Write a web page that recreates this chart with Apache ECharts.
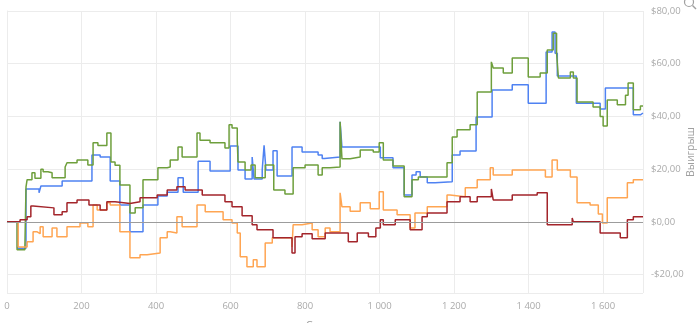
<!DOCTYPE html>
<html>
<head>
<meta charset="utf-8">
<script src="https://cdn.jsdelivr.net/npm/echarts@6/dist/echarts.min.js"></script>
<style>
html,body{margin:0;padding:0;background:#fff;}
#c{width:700px;height:323px;}
</style>
</head>
<body>
<div id="c"></div>
<script>
// ---- data (x = trade number where a new value starts, y = cumulative profit) ----
const blueX = [0,28,51,86,91,148,228,250,277,303,330,365,405,430,459,473,513,545,599,620,639,658,663,685,690,695,714,725,765,792,835,846,852,894,899,1002,1036,1066,1087,1098,1109,1128,1149,1195,1216,1259,1302,1356,1399,1447,1463,1471,1477,1528,1592,1606,1681,1700,1707];
const blueY = [0,-10,12.5,11,13.6,15.5,25.4,24.6,15.5,6.4,-3.8,6.4,9.8,11.2,16.7,11.2,23,19.3,28.8,19.7,16.3,24.6,16.3,19.7,29,19.7,27,17.4,28.4,26.5,25.4,24,24.6,38,28.4,24.3,20.5,10.2,17.8,19,17,14.8,15.2,25.4,26.9,39.8,50,52,45,64.4,72,64,55.3,45,42.8,50.8,40.6,41.3,41.3];

const greenX = [0,27,48,51,54,67,75,91,97,110,121,156,161,188,217,231,244,268,279,290,303,330,344,365,405,430,438,459,470,510,518,545,585,596,604,618,620,639,655,666,693,716,746,768,800,835,846,867,894,899,921,948,983,999,1010,1036,1066,1087,1104,1181,1195,1208,1243,1262,1300,1305,1332,1356,1399,1431,1450,1466,1475,1480,1512,1520,1530,1573,1592,1600,1611,1638,1660,1667,1681,1700,1707];
const greenY = [0,-10.6,-9.5,13.3,16,18.6,16.5,20,19,18.6,16.7,20.8,22.4,23.5,21.6,30,29,33.7,22.7,21.5,14,3.4,5.3,16,20.5,20.8,23.5,28.4,24.6,33.7,31,30,28,36.8,35.6,31,22.7,19.7,21.6,16.7,21.6,12.1,10.6,20.5,21.6,17.8,20.5,20.8,38,23.9,24.6,27.3,26.5,30,23.5,21.2,9.5,16,17,22.4,32.2,34.9,36.8,49.3,60.7,58.4,56.5,62.2,55,56.5,65.2,71.6,64,54.6,56.9,54.6,45.5,43.6,40,36.4,46.2,44.4,48,52.7,42.5,44,44];

const orangeX = [0,30,54,70,81,89,97,121,134,161,196,217,231,242,268,277,303,330,357,376,411,430,438,456,470,510,532,580,604,618,626,644,661,671,693,712,765,768,792,819,835,854,867,894,899,921,948,975,999,1010,1047,1082,1095,1128,1181,1189,1230,1262,1297,1305,1356,1445,1463,1477,1512,1530,1565,1587,1598,1611,1665,1681,1707];
const orangeY = [0,-9.5,-7.6,-3.8,-4.5,-1.9,-5.7,-2.3,-5.7,-1.9,-0.4,-1.9,6.4,4.5,7.2,6.4,-3.8,-13.6,-12.5,-11.8,-6,-3.8,-4.2,1.9,-1.9,6.4,3.8,0.8,-0.4,-4.2,-13.2,-17,-14.4,-17,-8,-6,-9.5,-1.1,-0.4,-3,-5.7,-2.3,-3.8,11,5.7,4,7.2,5,11.4,4.5,2.7,-2.3,3.4,5.7,10.2,9.5,12.9,16,20.5,17.8,19.7,17,23.5,19.7,17,7.2,6.4,3,-0.4,9.1,14.8,16,16];

const redX = [0,35,54,64,70,126,148,161,188,220,250,268,290,330,357,403,430,456,478,524,585,604,631,658,671,714,765,773,792,819,854,916,940,970,990,1002,1010,1042,1082,1114,1128,1181,1216,1243,1262,1300,1305,1356,1423,1450,1517,1520,1592,1646,1665,1681,1707];
const redY = [0,0.8,1.9,6,5.3,2.7,3.8,7.2,8.3,6.4,4.5,7.6,7,7.6,9.1,10.2,12.1,13.3,12.1,10.2,7.6,5.7,2.3,-1.1,-3,-6,-11.8,-5.7,-4.5,-6.4,-4.2,-7.6,-4.2,-5.7,-2.3,0.8,-1.1,0.8,-3,1.9,3.4,7.6,9.5,7.6,9.5,12.5,8.3,10.2,11,-1.1,1.5,0,-4.2,-6,0.8,1.9,1.9];

const xTicks = [0,200,400,600,800,1000,1200,1400,1600];
const yTicks = [-20,0,20,40,60,80];
const xName = 'Сделки';
const yName = 'Выигрыш';

function pairs(xs, ys){ return xs.map((x,i)=>[x, ys[i]]); }

const FONT = 'Open Sans';
const chart = echarts.init(document.getElementById('c'), null, {renderer:'canvas'});

function lineSeries(name, xs, ys, color, extra){
  return Object.assign({
    name, type:'line', step:'end', showSymbol:false, symbol:'none',
    data: pairs(xs, ys),
    lineStyle:{color, width:1.5},
    itemStyle:{color},
    animation:false
  }, extra||{});
}

chart.setOption({
  animation:false,
  backgroundColor:'#ffffff',
  grid:{left:7, right:57, top:11, bottom:30, containLabel:false, outerBoundsMode:'none'},
  xAxis:{
    type:'value', min:0, max:1707, interval:200,
    name:xName, nameLocation:'middle', nameGap:27, nameMoveOverlap:false,
    nameTextStyle:{color:'#9a9a9a', fontFamily:FONT, fontSize:11},
    axisLine:{show:true, lineStyle:{color:'#ececec'}},
    axisTick:{show:false},
    axisLabel:{color:'#aaaaaa', fontFamily:FONT, fontSize:9.5, margin:8,
      formatter:v=> xTicks.indexOf(v) < 0 ? '' : String(v).replace(/\B(?=(\d{3})+(?!\d))/g,' ')},
    splitLine:{show:true, lineStyle:{color:'#ececec', width:1}}
  },
  yAxis:{
    type:'value', position:'right', min:-27, max:80,
    name:yName, nameLocation:'middle', nameGap:43, nameRotate:90, nameMoveOverlap:false,
    nameTextStyle:{color:'#a0a0a0', fontFamily:FONT, fontSize:10.5, verticalAlign:'top'},
    axisLine:{show:true, lineStyle:{color:'#ececec'}},
    axisTick:{show:false},
    axisLabel:{color:'#aaaaaa', fontFamily:FONT, fontSize:9.5, margin:8,
      formatter:v=>{ if (yTicks.indexOf(v) < 0) return ''; const s=Math.abs(v).toFixed(2).replace('.',','); return (v<0?'-$':'$')+s; }},
    splitLine:{show:true, lineStyle:{color:'#ececec', width:1}}
  },
  graphic:[
    {type:'circle', shape:{cx:689, cy:2, r:4.5}, style:{fill:'none', stroke:'#a0a0a0', lineWidth:1.2}, silent:true},
    {type:'line', shape:{x1:692.5, y1:5.5, x2:696, y2:9}, style:{stroke:'#a0a0a0', lineWidth:1.4}, silent:true}
  ],
  series:[
    lineSeries('blue', blueX, blueY, '#4f82f2', {
      markLine:{silent:true, symbol:['none','none'], label:{show:false},
        lineStyle:{color:'#9c9c9c', type:'solid', width:1},
        data:[{yAxis:0}], animation:false}
    }),
    lineSeries('green', greenX, greenY, '#6e9f3c'),
    lineSeries('orange', orangeX, orangeY, '#ffa552'),
    lineSeries('red', redX, redY, '#a3252b')
  ]
});
</script>
</body>
</html>
